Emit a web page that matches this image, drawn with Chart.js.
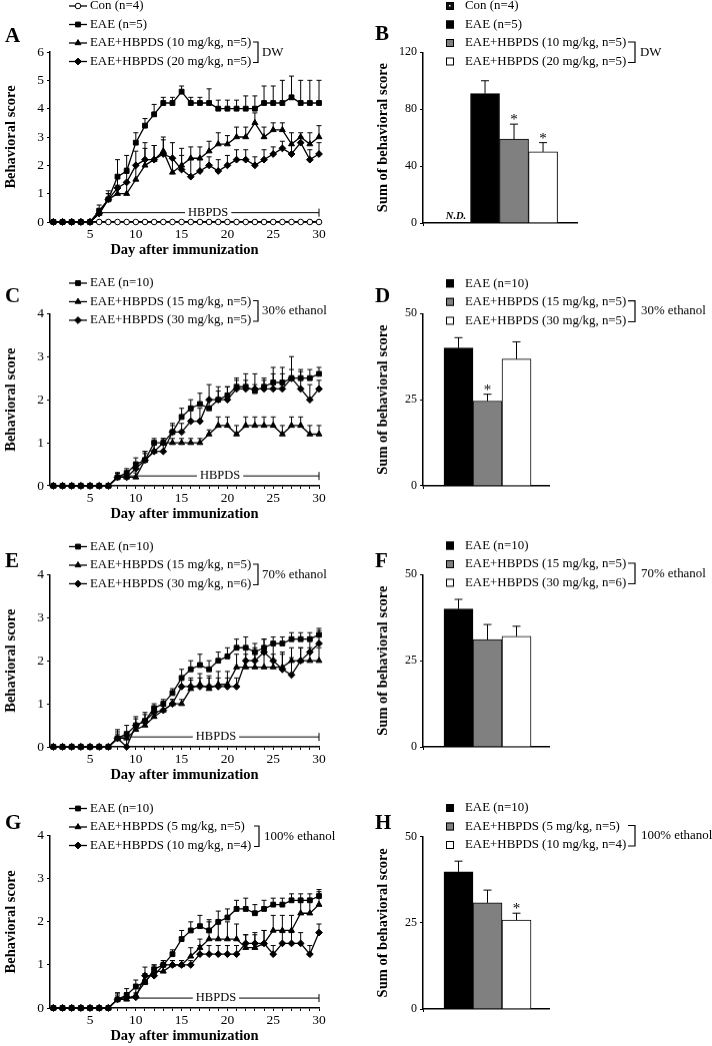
<!DOCTYPE html>
<html>
<head>
<meta charset="utf-8">
<script src="https://cdn.jsdelivr.net/npm/chart.js@4.4.0/dist/chart.umd.min.js"></script>
<style>
html, body { margin: 0; padding: 0; background: #fff; }
#fig { position: relative; width: 712px; height: 1046px; overflow: hidden; }
#fig canvas { position: absolute; }
</style>
</head>
<body>
<div id="fig"></div>
<script>
// Day axis
const days = [1,2,3,4,5,6,7,8,9,10,11,12,13,14,15,16,17,18,19,20,21,22,23,24,25,26,27,28,29,30];

// Panel A - DW
const aLabels = ["Con (n=4)", "EAE (n=5)", "EAE+HBPDS (10 mg/kg, n=5)", "EAE+HBPDS (20 mg/kg, n=5)"];
const aCon = [0,0,0,0,0,0,0,0,0,0,0,0,0,0,0,0,0,0,0,0,0,0,0,0,0,0,0,0,0,0];
const aEae = [0,0,0,0,0,0.4,0.8,1.6,1.8,2.8,3.4,3.8,4.2,4.2,4.6,4.2,4.2,4.2,4.0,4.0,4.0,4.0,4.0,4.2,4.2,4.2,4.4,4.2,4.2,4.2];
const aEaeErr = [0,0,0,0,0,0.2,0.3,0.6,0.55,0.35,0.25,0.35,0.2,0.2,0.2,0.2,0.2,0.5,0.3,0.3,0.3,0.45,0.45,0.6,0.6,0.8,0.75,0.8,0.8,0.8];
const a10 = [0,0,0,0,0,0.3,0.8,1.0,1.0,1.5,2.0,2.2,2.5,1.75,2.0,2.25,2.25,2.5,2.75,2.75,3.0,3.0,3.5,3.0,3.25,3.25,2.75,3.0,2.75,3.0];
const a10Err = [0,0,0,0,0,0.1,0.2,0.3,0.4,0.5,0.8,0.5,0.5,0.5,0.6,0.4,0.4,0.35,0.4,0.3,0.35,0.35,0.35,0.35,0.25,0.25,0.4,0.15,0.4,0.4];
const a20 = [0,0,0,0,0,0.3,0.8,1.2,1.4,2.0,2.2,2.2,2.4,2.25,1.85,1.6,1.8,2.0,1.8,2.0,2.2,2.2,2.0,2.2,2.4,2.6,2.4,2.8,2.2,2.4];
const a20Err = [0,0,0,0,0,0.1,0.2,0.4,0.5,0.5,0.4,0.5,0.5,0.55,0.5,0.6,0.4,0.3,0.4,0.35,0.35,0.35,0.3,0.35,0.25,0.25,0.3,0.2,0.35,0.4];

// Panel B - DW sums
const bCats = ["Con (n=4)", "EAE (n=5)", "EAE+HBPDS (10 mg/kg, n=5)", "EAE+HBPDS (20 mg/kg, n=5)"];
const bMeans = [null, 91, 59, 50];
const bErr = [null, 9, 10.5, 6.5];
const bStars = [false, false, true, true];

// Panel C - 30% ethanol
const cLabels = ["EAE (n=10)", "EAE+HBPDS (15 mg/kg, n=5)", "EAE+HBPDS (30 mg/kg, n=5)"];
const cEae = [0,0,0,0,0,0,0,0.2,0.3,0.5,0.6,1.0,1.0,1.25,1.6,1.8,1.9,1.8,2.0,2.1,2.3,2.3,2.2,2.3,2.4,2.4,2.5,2.5,2.5,2.6];
const cEaeErr = [0,0,0,0,0,0,0,0.1,0.1,0.15,0.15,0.1,0.1,0.15,0.2,0.2,0.25,0.2,0.2,0.2,0.15,0.15,0.15,0.2,0.2,0.2,0.2,0.2,0.2,0.15];
const c15 = [0,0,0,0,0,0,0,0.2,0.2,0.2,0.6,0.8,1.0,1.0,1.0,1.0,1.0,1.2,1.4,1.4,1.2,1.4,1.4,1.4,1.4,1.2,1.4,1.4,1.2,1.2];
const c15Err = [0,0,0,0,0,0,0,0.1,0.1,0.1,0.2,0.2,0.1,0.1,0.1,0.1,0.1,0.1,0.2,0.2,0.2,0.2,0.2,0.2,0.2,0.2,0.2,0.2,0.2,0.2];
const c30 = [0,0,0,0,0,0,0,0.2,0.2,0.4,0.6,0.8,0.8,1.25,1.25,1.5,1.5,2.0,2.0,2.0,2.25,2.25,2.25,2.25,2.25,2.25,2.5,2.25,2.0,2.25];
const c30Err = [0,0,0,0,0,0,0,0.1,0.1,0.15,0.2,0.2,0.2,0.2,0.2,0.25,0.3,0.35,0.3,0.3,0.25,0.35,0.35,0.2,0.5,0.5,0.5,0.4,0.35,0.2];

// Panel D - 30% ethanol sums
const dCats = ["EAE (n=10)", "EAE+HBPDS (15 mg/kg, n=5)", "EAE+HBPDS (30 mg/kg, n=5)"];
const dMeans = [40, 24.6, 36.8];
const dErr = [3, 2, 5];
const dStars = [false, true, false];

// Panel E - 70% ethanol
const eLabels = ["EAE (n=10)", "EAE+HBPDS (15 mg/kg, n=5)", "EAE+HBPDS (30 mg/kg, n=6)"];
const eEae = [0,0,0,0,0,0,0,0.2,0.3,0.5,0.6,0.9,1.0,1.25,1.6,1.8,1.9,1.8,2.0,2.1,2.3,2.3,2.2,2.3,2.4,2.4,2.5,2.5,2.5,2.6];
const eEaeErr = [0,0,0,0,0,0,0,0.15,0.2,0.2,0.2,0.1,0.1,0.1,0.2,0.2,0.25,0.2,0.2,0.2,0.2,0.25,0.2,0.2,0.15,0.15,0.15,0.15,0.15,0.15];
const e15 = [0,0,0,0,0,0,0,0.2,0.2,0.4,0.5,0.7,0.85,1.0,1.0,1.35,1.45,1.35,1.45,1.45,1.85,1.85,1.85,1.85,1.85,1.85,2.0,2.0,2.0,2.0];
const e15Err = [0,0,0,0,0,0,0,0.1,0.1,0.1,0.15,0.15,0.1,0.1,0.1,0.2,0.25,0.3,0.3,0.3,0.3,0.3,0.3,0.3,0.3,0.3,0.3,0.3,0.3,0.3];
const e30 = [0,0,0,0,0,0,0,0.2,0.0,0.5,0.6,0.8,0.85,1.0,1.4,1.4,1.4,1.4,1.4,1.4,1.4,2.0,2.0,2.2,2.0,1.8,1.67,2.0,2.2,2.4];
const e30Err = [0,0,0,0,0,0,0,0.2,0.2,0.15,0.15,0.1,0.1,0.1,0.2,0.2,0.2,0.2,0.2,0.2,0.2,0.3,0.3,0.3,0.4,0.4,0.4,0.3,0.3,0.3];

// Panel F - 70% ethanol sums
const fCats = ["EAE (n=10)", "EAE+HBPDS (15 mg/kg, n=5)", "EAE+HBPDS (30 mg/kg, n=6)"];
const fMeans = [40, 31.1, 32.1];
const fErr = [2.8, 4.4, 2.9];
const fStars = [false, false, false];

// Panel G - 100% ethanol
const gLabels = ["EAE (n=10)", "EAE+HBPDS (5 mg/kg, n=5)", "EAE+HBPDS (10 mg/kg, n=4)"];
const gEae = [0,0,0,0,0,0,0,0.2,0.3,0.5,0.6,0.9,1.0,1.25,1.6,1.8,1.9,1.8,2.0,2.1,2.3,2.3,2.2,2.3,2.4,2.4,2.5,2.5,2.5,2.6];
const gEaeErr = [0,0,0,0,0,0,0,0.15,0.15,0.15,0.15,0.1,0.1,0.1,0.2,0.2,0.25,0.25,0.25,0.2,0.2,0.25,0.2,0.2,0.15,0.15,0.15,0.15,0.15,0.15];
const g5 = [0,0,0,0,0,0,0,0.2,0.2,0.3,0.6,0.85,0.85,1.0,1.0,1.2,1.4,1.6,1.6,1.6,1.6,1.4,1.4,1.5,1.8,1.8,1.8,2.2,2.2,2.4];
const g5Err = [0,0,0,0,0,0,0,0.15,0.15,0.15,0.2,0.15,0.15,0.1,0.1,0.2,0.2,0.4,0.4,0.4,0.35,0.3,0.3,0.3,0.35,0.35,0.35,0.3,0.3,0.3];
const g10 = [0,0,0,0,0,0,0,0.2,0.25,0.25,0.75,0.75,1.0,1.0,1.0,1.0,1.25,1.25,1.25,1.25,1.25,1.5,1.5,1.5,1.25,1.5,1.5,1.5,1.25,1.75];
const g10Err = [0,0,0,0,0,0,0,0.1,0.1,0.1,0.2,0.15,0.1,0.1,0.1,0.1,0.2,0.2,0.2,0.2,0.2,0.2,0.25,0.3,0.2,0.25,0.25,0.25,0.2,0.2];

// Panel H - 100% ethanol sums
const hCats = ["EAE (n=10)", "EAE+HBPDS (5 mg/kg, n=5)", "EAE+HBPDS (10 mg/kg, n=4)"];
const hMeans = [39.8, 30.8, 25.8];
const hErr = [3.1, 3.7, 2];
const hStars = [false, false, true];

const SERIF = "'Liberation Serif', 'Times New Roman', serif";
const LEG_FONT = "12.9px " + SERIF;
Chart.defaults.font.family = SERIF;
Chart.defaults.color = "#000";

const fig = document.getElementById("fig");
const panelCfg = {};

function addCanvas(id, left, top, w, h) {
  const c = document.createElement("canvas");
  c.id = id;
  c.width = w;
  c.height = h;
  c.style.left = left + "px";
  c.style.top = top + "px";
  c.style.width = w + "px";
  c.style.height = h + "px";
  fig.appendChild(c);
  return c;
}

// Error bars, legends, brackets, letters and the HBPDS marker
const extras = {
  id: "extras",
  beforeDatasetsDraw(chart) {
    const cfg = panelCfg[chart.canvas.id];
    const ctx = chart.ctx;
    const yS = chart.scales.y;
    ctx.save();
    ctx.strokeStyle = "#000";
    ctx.lineWidth = 1;
    chart.data.datasets.forEach((ds, i) => {
      if (!ds.errors) return;
      chart.getDatasetMeta(i).data.forEach((el, j) => {
        const e = ds.errors[j];
        const v = ds.data[j];
        if (!e || v == null) return;
        const yTop = yS.getPixelForValue(v + e);
        ctx.beginPath();
        ctx.moveTo(el.x, el.y);
        ctx.lineTo(el.x, yTop);
        ctx.moveTo(el.x - cfg.cap, yTop);
        ctx.lineTo(el.x + cfg.cap, yTop);
        ctx.stroke();
      });
    });
    ctx.restore();
  },
  afterDraw(chart) {
    const cfg = panelCfg[chart.canvas.id];
    const ctx = chart.ctx;
    const ox = cfg.left, oy = cfg.top;
    const xS = chart.scales.x, yS = chart.scales.y;
    ctx.save();
    ctx.fillStyle = "#000";
    ctx.strokeStyle = "#000";
    ctx.textBaseline = "middle";
    ctx.textAlign = "left";

    // panel letter
    ctx.font = "bold 21px " + SERIF;
    ctx.fillText(cfg.letter, cfg.letterX - ox, cfg.letterY - oy);

    // legend
    ctx.font = LEG_FONT;
    cfg.legend.forEach((item, k) => {
      const y = cfg.rows[k] - oy;
      if (cfg.kind === "line") {
        ctx.lineWidth = 1.3;
        ctx.beginPath();
        ctx.moveTo(69 - ox, y);
        ctx.lineTo(87 - ox, y);
        ctx.stroke();
        ctx.fillStyle = item.fill;
        ctx.lineWidth = 1;
        Chart.helpers.drawPoint(ctx, { pointStyle: item.style, radius: item.r, borderWidth: 1, rotation: 0 }, 78 - ox, y);
        ctx.fillStyle = "#000";
        ctx.fillText(item.text, 90 - ox, y);
      } else {
        ctx.fillStyle = item.fill;
        ctx.fillRect(446 - ox, y - 4, 8, 8);
        ctx.lineWidth = 1;
        ctx.strokeRect(446.5 - ox, y - 3.5, 7, 7);
        if (item.dotted) {
          ctx.fillStyle = "#fff";
          ctx.fillRect(449 - ox, y - 1, 1.5, 1.5);
        }
        ctx.fillStyle = "#000";
        ctx.fillText(item.text, 465 - ox, y);
      }
    });

    // bracket with vehicle label
    const br = cfg.bracket;
    const y1 = cfg.rows[br.from] - oy - 1;
    const y2 = cfg.rows[br.to] - oy + 1;
    ctx.lineWidth = 1.2;
    ctx.beginPath();
    ctx.moveTo(br.x0 - ox, y1);
    ctx.lineTo(br.x1 - ox, y1);
    ctx.lineTo(br.x1 - ox, y2);
    ctx.lineTo(br.x0 - ox, y2);
    ctx.stroke();
    ctx.fillText(br.text, br.tx - ox, (y1 + y2) / 2);

    if (cfg.kind === "line") {
      // HBPDS treatment period
      const h = cfg.hbpds;
      const x1 = xS.getPixelForValue(h.start);
      const x2 = xS.getPixelForValue(30);
      const y = yS.getPixelForValue(h.level);
      const cx = xS.getPixelForValue(h.textDay);
      ctx.font = "12.5px " + SERIF;
      const w = ctx.measureText("HBPDS").width;
      ctx.lineWidth = 1;
      ctx.beginPath();
      ctx.moveTo(x1, y);
      ctx.lineTo(cx - w / 2 - 3, y);
      ctx.moveTo(cx + w / 2 + 3, y);
      ctx.lineTo(x2, y);
      ctx.moveTo(x1, y - 4);
      ctx.lineTo(x1, y + 4);
      ctx.moveTo(x2, y - 4);
      ctx.lineTo(x2, y + 4);
      ctx.stroke();
      ctx.textAlign = "center";
      ctx.fillText("HBPDS", cx, y);
    } else {
      ctx.textAlign = "center";
      cfg.means.forEach((m, j) => {
        const x = xS.getPixelForValue(j);
        if (m == null) {
          ctx.font = "italic bold 10.5px " + SERIF;
          ctx.fillText("N.D.", x, yS.getPixelForValue(0) - 7);
          return;
        }
        if (cfg.stars[j]) {
          ctx.font = "15px " + SERIF;
          ctx.fillText("*", x, yS.getPixelForValue(m + cfg.errs[j]) - 4);
        }
      });
    }
    ctx.restore();
  }
};

function axisStyle() {
  return {
    grid: { drawOnChartArea: false, drawTicks: true, tickLength: 3, color: "#000", lineWidth: 1 },
    border: { display: true, color: "#000", width: 1.5 }
  };
}

function linePanel(id, p, series) {
  const h = p.bottom - p.top + 40;
  const c = addCanvas(id, 0, p.top, 340, h);
  panelCfg[id] = Object.assign({ left: 0, kind: "line", cap: 2.5 }, p);
  new Chart(c, {
    type: "line",
    data: {
      labels: days,
      datasets: series.map(s => ({
        data: s.data,
        errors: s.errors,
        borderColor: "#000",
        borderWidth: 1.3,
        pointStyle: s.style,
        pointRadius: s.r,
        pointBackgroundColor: s.fill,
        pointBorderColor: "#000",
        pointBorderWidth: 1,
        tension: 0,
        clip: false
      }))
    },
    options: {
      responsive: false,
      animation: false,
      devicePixelRatio: 1,
      layout: { padding: { top: p.areaTop - p.top, right: 21, left: 0, bottom: 0 } },
      plugins: { legend: { display: false }, tooltip: { enabled: false } },
      scales: {
        x: Object.assign(axisStyle(), {
          type: "linear",
          min: 0.63,
          max: 30,
          ticks: {
            stepSize: 1, autoSkip: false, includeBounds: false, maxRotation: 0, padding: 1,
            font: { size: 13.5 }, color: "#000",
            callback: v => (v % 5 === 0 ? String(v) : "")
          },
          title: { display: true, text: "Day after immunization", font: { size: 14.5, weight: "bold" }, color: "#000", padding: { top: 0, bottom: 3.3 } },
          afterFit: s => { s.height = p.top + h - p.bottom; }
        }),
        y: Object.assign(axisStyle(), {
          min: 0,
          max: p.yMax,
          ticks: { stepSize: 1, padding: 3, font: { size: 13.5 }, color: "#000" },
          title: { display: true, text: "Behavioral score", font: { size: 14.5, weight: "bold" }, color: "#000", padding: { top: 3, bottom: 0 } },
          afterFit: s => { s.width = 50; }
        })
      }
    },
    plugins: [extras]
  });
}

function barPanel(id, p, cats, means, errs, stars, fills) {
  const h = p.bottom - p.top + 30;
  const c = addCanvas(id, 340, p.top, 372, h);
  panelCfg[id] = Object.assign({ left: 340, kind: "bar", cap: 4, means: means, errs: errs, stars: stars }, p);
  new Chart(c, {
    type: "bar",
    data: {
      labels: cats.map((_, i) => i),
      datasets: [{
        data: means,
        errors: errs,
        backgroundColor: fills,
        borderColor: "#000",
        borderWidth: 1,
        barThickness: 29,
        barPercentage: 1,
        categoryPercentage: 1
      }]
    },
    options: {
      responsive: false,
      animation: false,
      devicePixelRatio: 1,
      layout: { padding: { top: p.areaTop - p.top, right: 712 - p.areaRight, left: 0, bottom: 0 } },
      plugins: { legend: { display: false }, tooltip: { enabled: false } },
      scales: {
        x: Object.assign(axisStyle(), {
          type: "linear",
          offset: false,
          min: p.xMin,
          max: p.xMax,
          afterBuildTicks: s => { s.ticks = [{ value: s.max }]; },
          ticks: { display: false },
          afterFit: s => { s.height = p.top + h - p.bottom; }
        }),
        y: Object.assign(axisStyle(), {
          min: 0,
          max: p.yMax,
          ticks: { stepSize: p.step, padding: 3, font: { size: 12 }, color: "#000" },
          title: { display: true, text: "Sum of behavioral score", font: { size: 14.5, weight: "bold" }, color: "#000", padding: { top: 34.3, bottom: 0 } },
          afterFit: s => { s.width = 83; }
        })
      }
    },
    plugins: [extras]
  });
}

const SQ = { style: "rect", fill: "#000", r: 3.4 };
const TRI = { style: "triangle", fill: "#000", r: 3.4 };
const DIA = { style: "rectRot", fill: "#000", r: 3.4 };
const CIR = { style: "circle", fill: "#fff", r: 2.8 };

function lineLegend(labels, styles) {
  return labels.map((t, i) => Object.assign({ text: t }, styles[i]));
}
function barLegend(labels, fills) {
  return labels.map((t, i) => ({ text: t, fill: fills[i], dotted: t.indexOf("Con") === 0 }));
}

// ---- left column (time course) ----
linePanel("pA", {
  top: 0, areaTop: 52, bottom: 222, yMax: 6,
  letter: "A", letterX: 5, letterY: 36.7,
  rows: [6, 24.5, 43, 61.5],
  legend: lineLegend(aLabels, [CIR, SQ, TRI, DIA]),
  bracket: { from: 2, to: 3, x0: 253, x1: 258, tx: 262, text: "DW" },
  hbpds: { start: 6, level: 0.33, textDay: 17.9 }
}, [
  Object.assign({ data: aEae, errors: aEaeErr }, SQ),
  Object.assign({ data: a10, errors: a10Err }, TRI),
  Object.assign({ data: a20, errors: a20Err }, DIA),
  Object.assign({ data: aCon }, CIR)
]);

linePanel("pC", {
  top: 262, areaTop: 313.3, bottom: 485.7, yMax: 4,
  letter: "C", letterX: 5, letterY: 296.7,
  rows: [283, 301.5, 320],
  legend: lineLegend(cLabels, [SQ, TRI, DIA]),
  bracket: { from: 1, to: 2, x0: 253, x1: 258, tx: 262, text: "30% ethanol" },
  hbpds: { start: 8, level: 0.23, textDay: 19.2 }
}, [
  Object.assign({ data: cEae, errors: cEaeErr }, SQ),
  Object.assign({ data: c15, errors: c15Err }, TRI),
  Object.assign({ data: c30, errors: c30Err }, DIA)
]);

linePanel("pE", {
  top: 523, areaTop: 574.3, bottom: 746.7, yMax: 4,
  letter: "E", letterX: 5, letterY: 561.7,
  rows: [546.5, 565, 583.5],
  legend: lineLegend(eLabels, [SQ, TRI, DIA]),
  bracket: { from: 1, to: 2, x0: 253, x1: 258, tx: 262, text: "70% ethanol" },
  hbpds: { start: 8, level: 0.23, textDay: 18.75 }
}, [
  Object.assign({ data: eEae, errors: eEaeErr }, SQ),
  Object.assign({ data: e15, errors: e15Err }, TRI),
  Object.assign({ data: e30, errors: e30Err }, DIA)
]);

linePanel("pG", {
  top: 785, areaTop: 835.7, bottom: 1008.3, yMax: 4,
  letter: "G", letterX: 5, letterY: 823.3,
  rows: [808.5, 827, 845.5],
  legend: lineLegend(gLabels, [SQ, TRI, DIA]),
  bracket: { from: 1, to: 2, x0: 254, x1: 259, tx: 264, text: "100% ethanol" },
  hbpds: { start: 8, level: 0.23, textDay: 18.75 }
}, [
  Object.assign({ data: gEae, errors: gEaeErr }, SQ),
  Object.assign({ data: g5, errors: g5Err }, TRI),
  Object.assign({ data: g10, errors: g10Err }, DIA)
]);

// ---- right column (sums) ----
const fills4 = ["#111", "#000", "#808080", "#fff"];
const fills3 = ["#000", "#808080", "#fff"];

barPanel("pB", {
  top: 0, areaTop: 52.3, bottom: 223, areaRight: 577, yMax: 120, step: 40, xMin: -1.138, xMax: 4.17,
  letter: "B", letterX: 375, letterY: 35,
  rows: [6, 24.5, 43, 61.5],
  legend: barLegend(bCats, fills4),
  bracket: { from: 2, to: 3, x0: 628, x1: 635, tx: 640, text: "DW" }
}, bCats, bMeans, bErr, bStars, fills4);

barPanel("pD", {
  top: 262, areaTop: 313.3, bottom: 485.7, areaRight: 549, yMax: 50, step: 25, xMin: -1.224, xMax: 3.12,
  letter: "D", letterX: 375, letterY: 296.7,
  rows: [283.3, 301.7, 320.5],
  legend: barLegend(dCats, fills3),
  bracket: { from: 1, to: 2, x0: 628, x1: 635, tx: 641, text: "30% ethanol" }
}, dCats, dMeans, dErr, dStars, fills3);

barPanel("pF", {
  top: 523, areaTop: 574.3, bottom: 746.7, areaRight: 549, yMax: 50, step: 25, xMin: -1.224, xMax: 3.12,
  letter: "F", letterX: 375, letterY: 561.7,
  rows: [545.5, 564, 582.5],
  legend: barLegend(fCats, fills3),
  bracket: { from: 1, to: 2, x0: 628, x1: 635, tx: 641, text: "70% ethanol" }
}, fCats, fMeans, fErr, fStars, fills3);

barPanel("pH", {
  top: 785, areaTop: 836.7, bottom: 1009, areaRight: 549, yMax: 50, step: 25, xMin: -1.224, xMax: 3.12,
  letter: "H", letterX: 375, letterY: 823.3,
  rows: [808, 826.5, 845],
  legend: barLegend(hCats, fills3),
  bracket: { from: 1, to: 2, x0: 628, x1: 635, tx: 641, text: "100% ethanol" }
}, hCats, hMeans, hErr, hStars, fills3);
</script>
</body>
</html>
